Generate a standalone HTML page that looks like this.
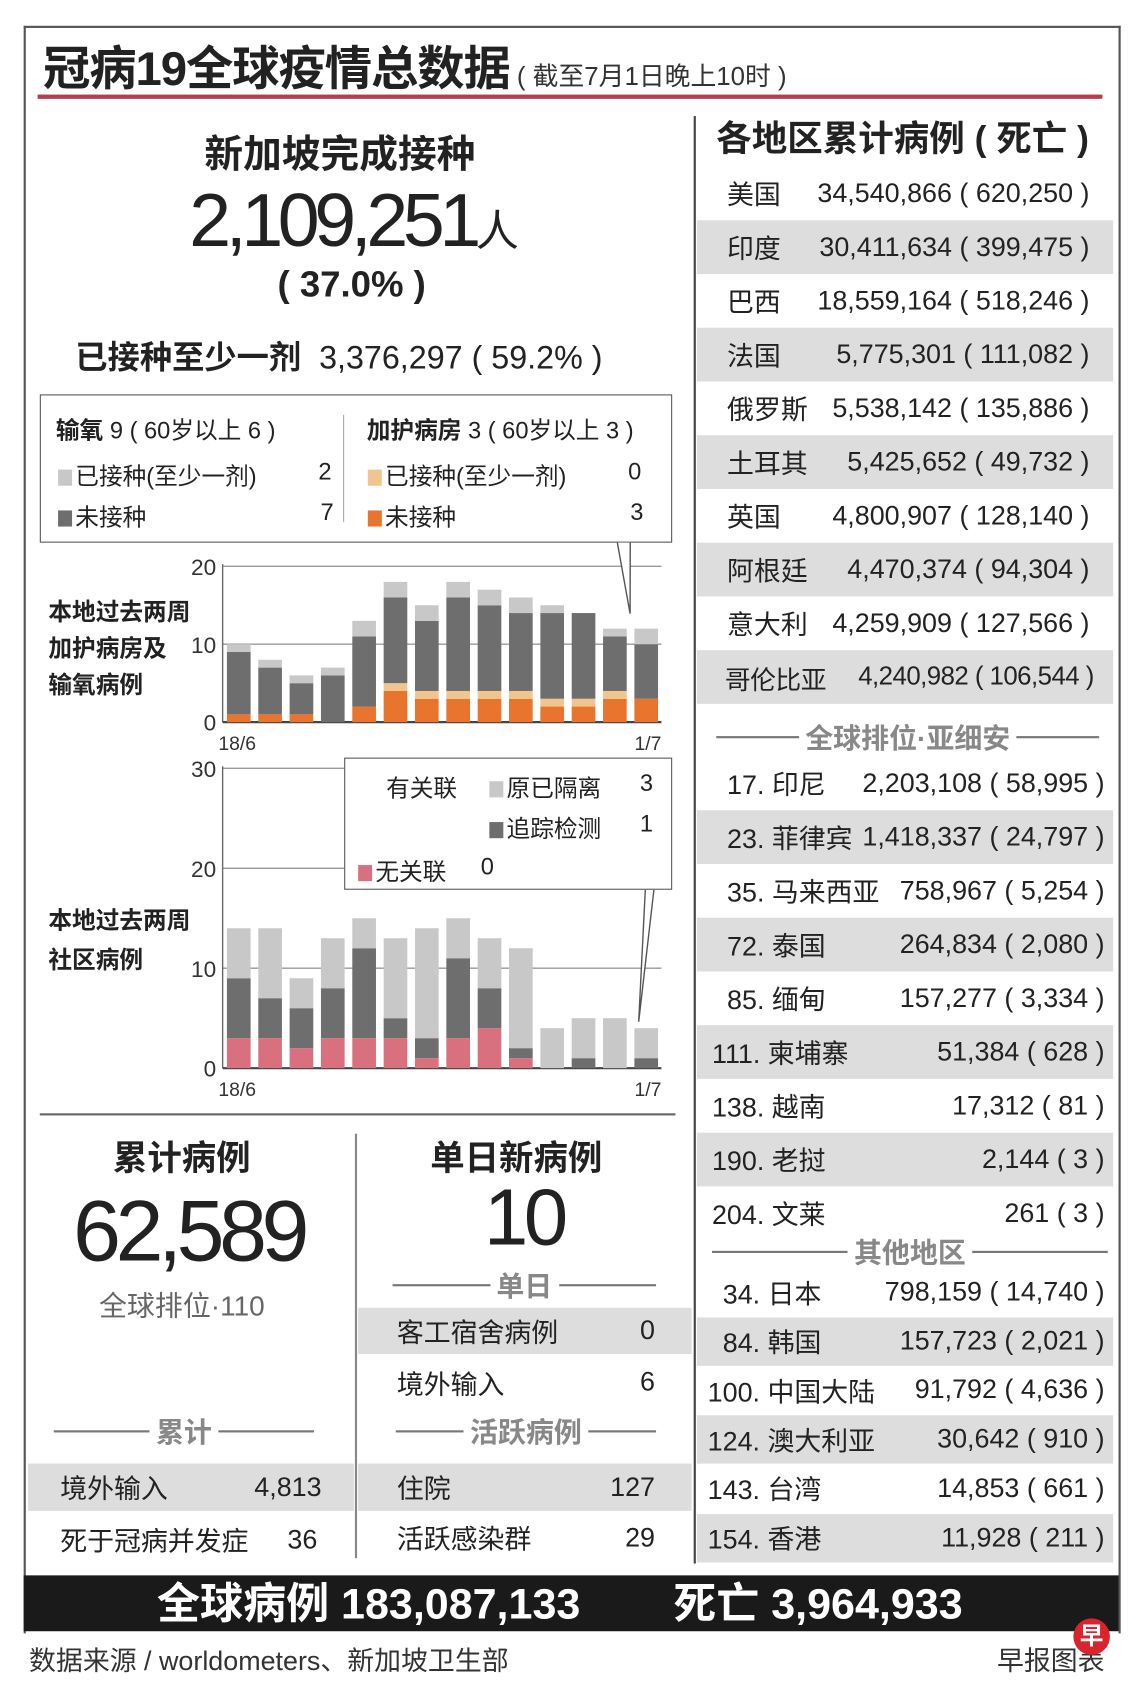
<!DOCTYPE html>
<html><head><meta charset="utf-8">
<style>
html,body{margin:0;padding:0;background:#fff;}
body{width:1140px;height:1685px;overflow:hidden;position:relative;}
#w{position:absolute;left:0;top:0;width:1060px;height:1568px;transform:scale(1.0755,1.0746);transform-origin:0 0;font-family:"Liberation Sans","Noto Sans CJK SC",sans-serif;color:#222;}
.a{position:absolute;white-space:nowrap;}
.b{font-weight:bold;}
.row{position:absolute;display:flex;justify-content:space-between;align-items:center;box-sizing:border-box;font-size:25px;white-space:nowrap;}
.row span{white-space:nowrap;}
.g{background:#ddd;}
.sep{position:absolute;display:flex;align-items:center;color:#888;font-weight:bold;font-size:26px;}
.sep i{flex:1;height:2px;background:#777;}
.sep span{padding:0 6px;}
.sw{display:inline-block;width:13px;height:15px;margin-right:3px;vertical-align:-1px;}
</style></head><body>
<div id="w">
<div class="a" style="left:22px;top:24px;width:1016px;height:1494px;border:2px solid #555;border-bottom:none;"></div>
<div class="a b" style="left:40px;top:28px;font-size:44px;letter-spacing:-1px;">冠病19全球疫情总数据<span style="font-weight:normal;font-size:24px;color:#333;letter-spacing:0;"> ( 截至7月1日晚上10时 )</span></div>
<div class="a" style="left:35px;top:88px;width:990px;height:4px;background:#b04050;"></div>
<div class="a" style="left:645px;top:108px;width:2px;height:1347px;background:#444;"></div>

<div class="a b" style="left:190px;top:115px;font-size:36px;">新加坡完成接种</div>
<div class="a" style="left:176px;top:165px;font-size:70px;letter-spacing:-5px;">2,109,251<span style="font-size:40px;letter-spacing:0;">人</span></div>
<div class="a b" style="left:258px;top:246px;font-size:34px;">( 37.0% )</div>
<div class="a" style="left:70px;top:308px;font-size:30px;"><b>已接种至少一剂</b>&nbsp;&nbsp;3,376,297 ( 59.2% )</div>

<div class="a" style="left:37px;top:367px;width:588px;height:138px;border:1.5px solid #555;box-sizing:border-box;font-size:22px;">
 <div class="a" style="left:14px;top:15px;"><b>输氧</b> 9 ( 60岁以上 6 )</div>
 <div class="a" style="left:16px;top:58px;"><span class="sw" style="background:#c8c8c8"></span>已接种(至少一剂)</div><div class="a" style="left:258px;top:58px;">2</div>
 <div class="a" style="left:16px;top:96px;"><span class="sw" style="background:#6e6e6e"></span>未接种</div><div class="a" style="left:260px;top:96px;">7</div>
 <div class="a" style="left:281px;top:18px;width:1px;height:100px;background:#aaa;"></div>
 <div class="a" style="left:303px;top:15px;"><b>加护病房</b> 3 ( 60岁以上 3 )</div>
 <div class="a" style="left:304px;top:58px;"><span class="sw" style="background:#f2c48e"></span>已接种(至少一剂)</div><div class="a" style="left:546px;top:58px;">0</div>
 <div class="a" style="left:304px;top:96px;"><span class="sw" style="background:#e8742e"></span>未接种</div><div class="a" style="left:548px;top:96px;">3</div>
</div>

<div class="a b" style="left:45px;top:553px;font-size:22px;line-height:34px;">本地过去两周<br>加护病房及<br>输氧病例</div>
<div class="a b" style="left:45px;top:838px;font-size:22px;line-height:37px;">本地过去两周<br>社区病例</div>

<svg class="a" id="charts" style="left:0;top:0;" width="1060" height="1040"></svg>

<div class="a" style="left:320px;top:705px;width:305px;height:123px;border:1.5px solid #555;box-sizing:border-box;background:#fff;font-size:22px;">
 <div class="a" style="left:38px;top:10px;">有关联</div>
 <div class="a" style="left:134px;top:10px;"><span class="sw" style="background:#c8c8c8"></span>原已隔离</div><div class="a" style="left:274px;top:10px;">3</div>
 <div class="a" style="left:134px;top:48px;"><span class="sw" style="background:#6e6e6e"></span>追踪检测</div><div class="a" style="left:274px;top:48px;">1</div>
 <div class="a" style="left:12px;top:88px;"><span class="sw" style="background:#d9707e"></span>无关联</div><div class="a" style="left:126px;top:88px;">0</div>
</div>

<div class="a" style="left:37px;top:1036px;width:591px;height:2px;background:#666;"></div>
<div class="a" style="left:330px;top:1055px;width:2px;height:395px;background:#888;"></div>

<div class="a b" style="left:105px;top:1053px;font-size:32px;">累计病例</div>
<div class="a" style="left:68px;top:1100px;font-size:80px;letter-spacing:-5px;">62,589</div>
<div class="a" style="left:92px;top:1195px;font-size:26px;color:#666;">全球排位·110</div>
<div class="sep" style="left:50px;top:1313px;width:242px;"><i></i><span>累计</span><i></i></div>
<div class="row g" style="left:26px;top:1362px;width:303px;height:44px;padding:0 30px;"><span>境外输入</span><span>4,813</span></div>
<div class="row" style="left:26px;top:1411px;width:303px;height:44px;padding:0 34px 0 30px;"><span>死于冠病并发症</span><span>36</span></div>

<div class="a b" style="left:400px;top:1053px;font-size:32px;">单日新病例</div>
<div class="a" style="left:450px;top:1090px;font-size:74px;letter-spacing:-4px;">10</div>
<div class="sep" style="left:365px;top:1177px;width:245px;"><i></i><span>单日</span><i></i></div>
<div class="row g" style="left:333px;top:1217px;width:310px;height:43px;padding:0 34px 0 36px;"><span>客工宿舍病例</span><span>0</span></div>
<div class="row" style="left:333px;top:1265px;width:310px;height:43px;padding:0 34px 0 36px;"><span>境外输入</span><span>6</span></div>
<div class="sep" style="left:368px;top:1313px;width:242px;"><i></i><span>活跃病例</span><i></i></div>
<div class="row g" style="left:333px;top:1362px;width:310px;height:44px;padding:0 34px 0 36px;"><span>住院</span><span>127</span></div>
<div class="row" style="left:333px;top:1409px;width:310px;height:44px;padding:0 34px 0 36px;"><span>活跃感染群</span><span>29</span></div>

<div class="a b" style="left:666px;top:102px;font-size:33px;">各地区累计病例 ( 死亡 )</div>
<div id="regions"></div>

<div class="a" style="left:22px;top:1466px;width:1018px;height:52px;background:#1a1a1a;color:#fff;font-weight:bold;font-size:40px;line-height:54px;">
 <span style="position:absolute;left:124px;">全球病例 183,087,133</span><span style="position:absolute;left:604px;">死亡 3,964,933</span></div>
<div class="a" style="left:27px;top:1526px;font-size:25px;color:#333;">数据来源 / worldometers、新加坡卫生部</div>
<div class="a" style="left:927px;top:1526px;font-size:25px;color:#333;">早报图表</div>
<div class="a" style="left:998px;top:1506px;width:34px;height:34px;border-radius:50%;background:#d8242c;color:#fff;font-size:22px;text-align:center;line-height:34px;font-weight:bold;">早</div>
</div>

<script>
// ICU/oxygen chart data (14 days, 18/6 - 1/7)
const days = ['18/6','19/6','20/6','21/6','22/6','23/6','24/6','25/6','26/6','27/6','28/6','29/6','30/6','1/7'];
const icuUnvac = [1,1,1,0,2,4,3,3,3,3,2,2,3,3];
const icuVac =   [0,0,0,0,0,1,1,1,1,1,1,1,1,0];
const o2Unvac =  [8,6,4,6,9,11,9,12,11,10,11,11,7,7];
const o2Vac =    [1,1,1,1,2,2,2,2,2,2,1,0,1,2];
const icuTicks = [0,10,20];
// Community cases chart data
const unlinked =   [3,3,2,3,3,3,1,3,4,1,0,0,0,0];
const traced =     [6,4,4,5,9,2,2,8,4,1,0,1,0,1];
const quarantined =[5,7,3,5,3,8,11,4,5,10,4,4,5,3];
const commTicks = [0,10,20,30];
const xLabels = ['18/6','1/7'];

const NS='http://www.w3.org/2000/svg';
const svg=document.getElementById('charts');
function mk(t,a){const e=document.createElementNS(NS,t);for(const k in a)e.setAttribute(k,a[k]);svg.appendChild(e);return e;}
function chart(name,y0,yTop,max,ticks,series,colors){
  const x0=207,x1=615;
  const step=(x1-x0)/days.length;
  const bw=22;
  const xs=i=>x0+4+i*step;
  const ys=v=>y0-(y0-yTop)*v/max;
  ticks.forEach(t=>{
    if(t>0){const l=mk('line',{x1:x0,x2:x1,y1:ys(t),y2:ys(t),stroke:'#999','stroke-width':1.3});
    
    }
    const tx=mk('text',{x:x0-6,y:ys(t)+8,'text-anchor':'end','font-size':21,fill:'#333','font-family':'Liberation Sans, sans-serif'});
    tx.textContent=t;
    
    
  });
  const ax=mk('line',{x1:x0,x2:x0,y1:yTop-2,y2:y0,stroke:'#666','stroke-width':1.3});
  
  
  const bx=mk('line',{x1:x0,x2:x1,y1:y0,y2:y0,stroke:'#444','stroke-width':2});
  
  
  days.forEach((d,i)=>{
    let acc=0;
    series.forEach((s,k)=>{
      const v=s[i]; if(v<=0)return;
      const r=mk('rect',{x:xs(i),y:ys(acc+v),width:bw,height:ys(acc)-ys(acc+v),fill:colors[k]});
      
      
      acc+=v;
    });
  });
  const l1=mk('text',{x:x0-4,y:y0+26,'font-size':18,fill:'#333'});l1.textContent=xLabels[0];
  
  
  const l2=mk('text',{x:x1,y:y0+26,'font-size':18,fill:'#333','text-anchor':'end'});l2.textContent=xLabels[1];
  
  
  return {xs,ys,bw};
}
const c1=chart('icu-chart',672,527,20,icuTicks,[icuUnvac,icuVac,o2Unvac,o2Vac],['#e8742e','#f2c48e','#6e6e6e','#c8c8c8']);
const c2=chart('community-chart',994,715,30,commTicks,[unlinked,traced,quarantined],['#d9707e','#6e6e6e','#c8c8c8']);
const last=days.length-1;
const p1=mk('polyline',{points:`574,505 ${c1.xs(last)-4},${c1.ys(icuUnvac[last]+icuVac[last]+o2Unvac[last]+o2Vac[last])-14} 586,505`,fill:'#fff',stroke:'#555','stroke-width':1.3});


const p2=mk('polyline',{points:`600,828 ${c2.xs(last)+4},${c2.ys(unlinked[last]+traced[last]+quarantined[last])-6} 608,828`,fill:'#fff',stroke:'#555','stroke-width':1.3});



// Regions
const regionNames=['美国','印度','巴西','法国','俄罗斯','土耳其','英国','阿根廷','意大利','哥伦比亚'];
const regionCases=['34,540,866','30,411,634','18,559,164','5,775,301','5,538,142','5,425,652','4,800,907','4,470,374','4,259,909','4,240,982'];
const regionDeaths=['620,250','399,475','518,246','111,082','135,886','49,732','128,140','94,304','127,566','106,544'];
const aseanNames=['17. 印尼','23. 菲律宾','35. 马来西亚','72. 泰国','85. 缅甸','111. 柬埔寨','138. 越南','190. 老挝','204. 文莱'];
const aseanCases=['2,203,108','1,418,337','758,967','264,834','157,277','51,384','17,312','2,144','261'];
const aseanDeaths=['58,995','24,797','5,254','2,080','3,334','628','81','3','3'];
const otherNames=['34. 日本','84. 韩国','100. 中国大陆','124. 澳大利亚','143. 台湾','154. 香港'];
const otherCases=['798,159','157,723','91,792','30,642','14,853','11,928'];
const otherDeaths=['14,740','2,021','4,636','910','661','211'];
const reg=document.getElementById('regions');
function addRow(name,val,top,h,gray,padL,padR,dn,fs){
  const d=document.createElement('div');
  d.className='row'+(gray?' g':'');
  d.style.cssText=`left:648px;top:${top}px;width:387px;height:${h}px;padding:0 ${padR}px 0 ${padL}px;`+(fs?`font-size:${fs}px;letter-spacing:-0.5px;`:'');
  d.innerHTML=`<span>${name}</span><span>${val}</span>`;
  
  
  reg.appendChild(d);
}
regionNames.forEach((n,i)=>addRow(n,`${regionCases[i]} ( ${regionDeaths[i]} )`,155+i*50,50,i%2==1,i==9?26:28,i==9?18:22,'region-row',i==9?24:0));
const s1=document.createElement('div');s1.className='sep';s1.style.cssText='left:666px;top:667px;width:356px;';
s1.innerHTML='<i></i><span>全球排位·亚细安</span><i></i>';


reg.appendChild(s1);
aseanNames.forEach((n,i)=>addRow(n,`${aseanCases[i]} ( ${aseanDeaths[i]} )`,704+i*50,50,i%2==1,i>=5?14:28,8,'asean-row',0));
const s2=document.createElement('div');s2.className='sep';s2.style.cssText='left:662px;top:1146px;width:368px;';
s2.innerHTML='<i></i><span>其他地区</span><i></i>';


reg.appendChild(s2);
otherNames.forEach((n,i)=>addRow(n,`${otherCases[i]} ( ${otherDeaths[i]} )`,1180+i*45.7,45,i%2==1,i>=2?10:24,8,'other-region-row',0));
</script>
</body></html>
